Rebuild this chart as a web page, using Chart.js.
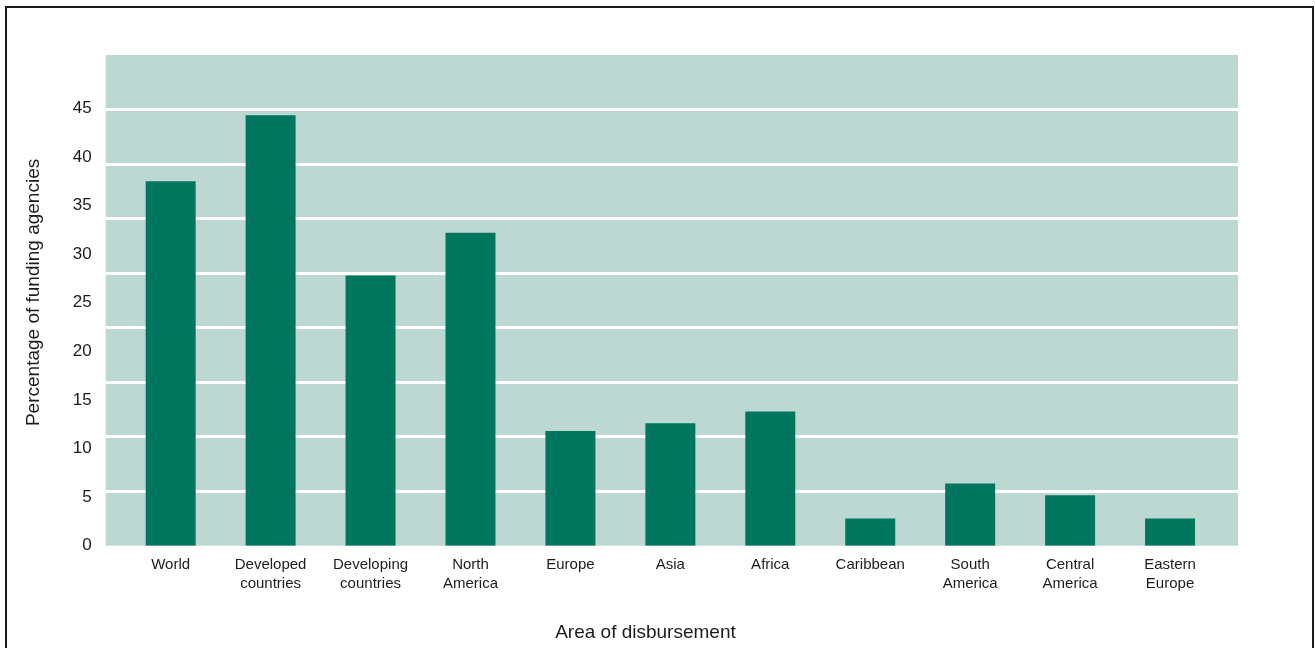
<!DOCTYPE html>
<html>
<head>
<meta charset="utf-8">
<script src="https://cdn.jsdelivr.net/npm/chart.js@4.4.1/dist/chart.umd.min.js"></script>
<style>
  html, body { margin: 0; padding: 0; background: #fff; }
  #wrap { position: relative; width: 1315px; height: 648px; overflow: hidden; }
  #frame { position: absolute; left: 5px; top: 6px; width: 1309px; height: 700px;
           box-sizing: border-box; border: 2px solid #1b1b1b; }
  #box { position: absolute; left: 0; top: 0; width: 1315px; height: 648px; }
</style>
</head>
<body>
<div id="wrap">
  <div id="frame"></div>
  <div id="box"><canvas id="myChart"></canvas></div>
</div>
<script>
// area of disbursement (each label split into lines)
const categories = [
  ["World"], ["Developed", "countries"], ["Developing", "countries"], ["North", "America"],
  ["Europe"], ["Asia"], ["Africa"], ["Caribbean"], ["South", "America"],
  ["Central", "America"], ["Eastern", "Europe"]
];
// percentage of funding agencies
const percentages = [37.5, 44.3, 27.8, 32.2, 11.8, 12.6, 13.8, 2.8, 6.4, 5.2, 2.8];
const yTicks = [0, 5, 10, 15, 20, 25, 30, 35, 40, 45];
// the white bands of the original split the plot into 9 equal rows
const bandLines = [1, 2, 3, 4, 5, 6, 7, 8];

const plotBackground = {
  id: 'plotBackground',
  beforeDraw(chart) {
    const { ctx, chartArea } = chart;
    ctx.save();
    ctx.fillStyle = '#bdd8d3';
    ctx.fillRect(chartArea.left, chartArea.top, chartArea.right - chartArea.left, chartArea.bottom - chartArea.top);
    ctx.restore();
  }
};

const textColor = '#1c1c1c';
const fontFamily = '"Liberation Sans", Arial, sans-serif';

new Chart(document.getElementById('myChart'), {
  type: 'bar',
  data: {
    datasets: [{
      label: 'Percentage of funding agencies',
      data: percentages.map((v, i) => ({ x: i, y: v })),
      backgroundColor: '#00765f',
      categoryPercentage: 1,
      barPercentage: 0.5
    }]
  },
  options: {
    responsive: true,
    maintainAspectRatio: false,
    animation: false,
    layout: { padding: { left: 22, right: 77, top: 55, bottom: 4 } },
    plugins: { legend: { display: false }, tooltip: { enabled: false } },
    scales: {
      x: {
        type: 'linear',
        offset: false,
        min: -0.65,
        max: 10.68,
        afterBuildTicks: axis => { axis.ticks = categories.map((c, i) => ({ value: i })); },
        ticks: {
          autoSkip: false,
          maxRotation: 0,
          padding: 10,
          color: textColor,
          font: { family: fontFamily, size: 15, lineHeight: 1.25 },
          callback: v => categories[v]
        },
        grid: { display: false, drawTicks: false },
        border: { display: false },
        title: {
          display: true,
          text: 'Area of disbursement          ',
          color: textColor,
          font: { family: fontFamily, size: 19 },
          padding: { top: 18, bottom: 0 }
        }
      },
      y: {
        position: 'left',
        min: 0,
        max: 50.5,
        afterBuildTicks: axis => { axis.ticks = yTicks.map(v => ({ value: v })); },
        ticks: {
          padding: 14,
          color: textColor,
          font: { family: fontFamily, size: 17 }
        },
        grid: { display: false, drawTicks: false },
        border: { display: false },
        title: {
          display: true,
          text: '   Percentage of funding agencies',
          color: textColor,
          font: { family: fontFamily, size: 19 },
          padding: { top: 0, bottom: 14 }
        }
      },
      y2: {
        position: 'right',
        min: 0,
        max: 9,
        afterBuildTicks: axis => { axis.ticks = bandLines.map(v => ({ value: v })); },
        ticks: { display: false },
        grid: { color: '#ffffff', lineWidth: 3, drawTicks: false },
        border: { display: false }
      }
    }
  },
  plugins: [plotBackground]
});
</script>
</body>
</html>
